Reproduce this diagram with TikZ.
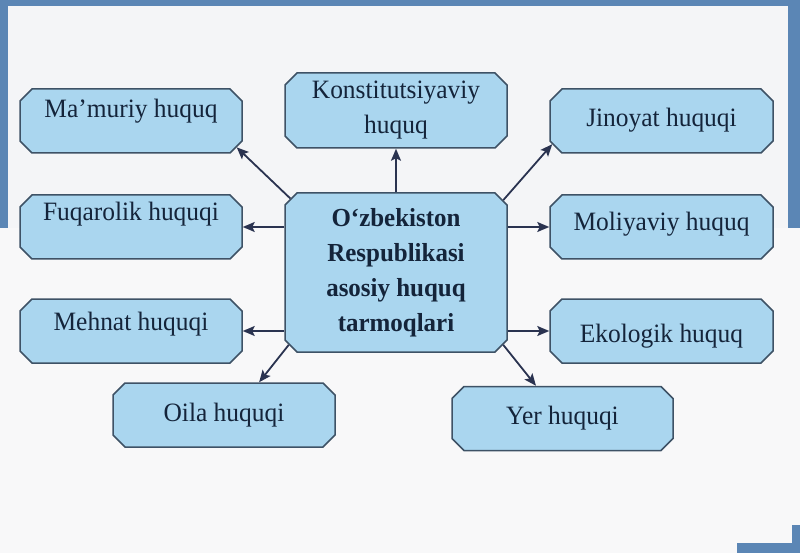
\documentclass[tikz,border=0pt]{standalone}
\usepackage{fontspec}
\setmainfont{Liberation Serif}[FakeStretch=0.96]
\usetikzlibrary{shapes.misc,arrows.meta}
\definecolor{framec}{HTML}{5B86B5}
\definecolor{bgc}{HTML}{F4F5F7}
\definecolor{lowbg}{HTML}{F8F8F9}
\definecolor{boxfill}{HTML}{AAD6EF}
\definecolor{boxdraw}{HTML}{3E5266}
\definecolor{txtc}{HTML}{14243A}
\definecolor{arrc}{HTML}{2A3350}
\begin{document}
\begin{tikzpicture}[x=1pt,y=-1pt,
  box/.style={chamfered rectangle, chamfered rectangle xsep=6pt, chamfered rectangle ysep=6pt,
    draw=boxdraw, fill=boxfill, line width=1.5pt, inner sep=0pt,
    minimum width=222pt, minimum height=64pt, text=txtc,
    font=\fontsize{26.5}{35}\selectfont, align=center},
  one/.style={text height=18pt, text depth=6pt},
  arr/.style={draw=arrc, line width=1.8pt, -{Stealth[length=12pt,width=10pt,inset=2.5pt]}}]
\useasboundingbox (0,0) rectangle (800,553);
% background
\fill[bgc] (0,0) rectangle (800,553);
\fill[lowbg] (0,228) rectangle (800,553);
\fill[framec] (0,0) rectangle (800,6);
\fill[framec] (0,0) rectangle (8,228);
\fill[framec] (788,0) rectangle (800,228);
\fill[framec] (737,543) rectangle (800,553);
\fill[framec] (792,525) rectangle (800,553);
% nodes
\node[box, one, text depth=24pt] (mam) at (131,121) {Ma’muriy huquq};
\node[box, one, text depth=30pt] (fuq) at (131,227) {Fuqarolik huquqi};
\node[box, one, text depth=20pt] (meh) at (131,331) {Mehnat huquqi};
\node[box, one] (oila) at (224,415) {Oila huquqi};
\node[box, minimum height=75pt] (kon) at (396,110.5) {Konstitutsiyaviy\\huquq};
\node[box, minimum height=159pt, font=\bfseries\fontsize{26}{35}\selectfont] (c) at (396,272.5)
  {O‘zbekiston\\Respublikasi\\asosiy huquq\\tarmoqlari};
\node[box, one, minimum width=223pt] (jin) at (661.5,121) {Jinoyat huquqi};
\node[box, one, minimum width=223pt, text depth=11pt] (mol) at (661.5,227) {Moliyaviy huquq};
\node[box, one, minimum width=223pt, text height=28pt] (eko) at (661.5,331) {Ekologik huquq};
\node[box, one, minimum width=221pt] (yer) at (562.5,418.5) {Yer huquqi};
% connectors
\draw[arr] (c.145) -- (mam.-14);
\draw[arr] (c.north) -- (kon.south);
\draw[arr] (c.34) -- (jin.192);
\draw[arr] (fuq.east -| c.west) -- (fuq.east);
\draw[arr] (mol.west -| c.east) -- (mol.west);
\draw[arr] (meh.east -| c.west) -- (meh.east);
\draw[arr] (eko.west -| c.east) -- (eko.west);
\draw[arr] (c.214) -- (oila.43);
\draw[arr] (c.-34) -- (yer.129);
\end{tikzpicture}
\end{document}
